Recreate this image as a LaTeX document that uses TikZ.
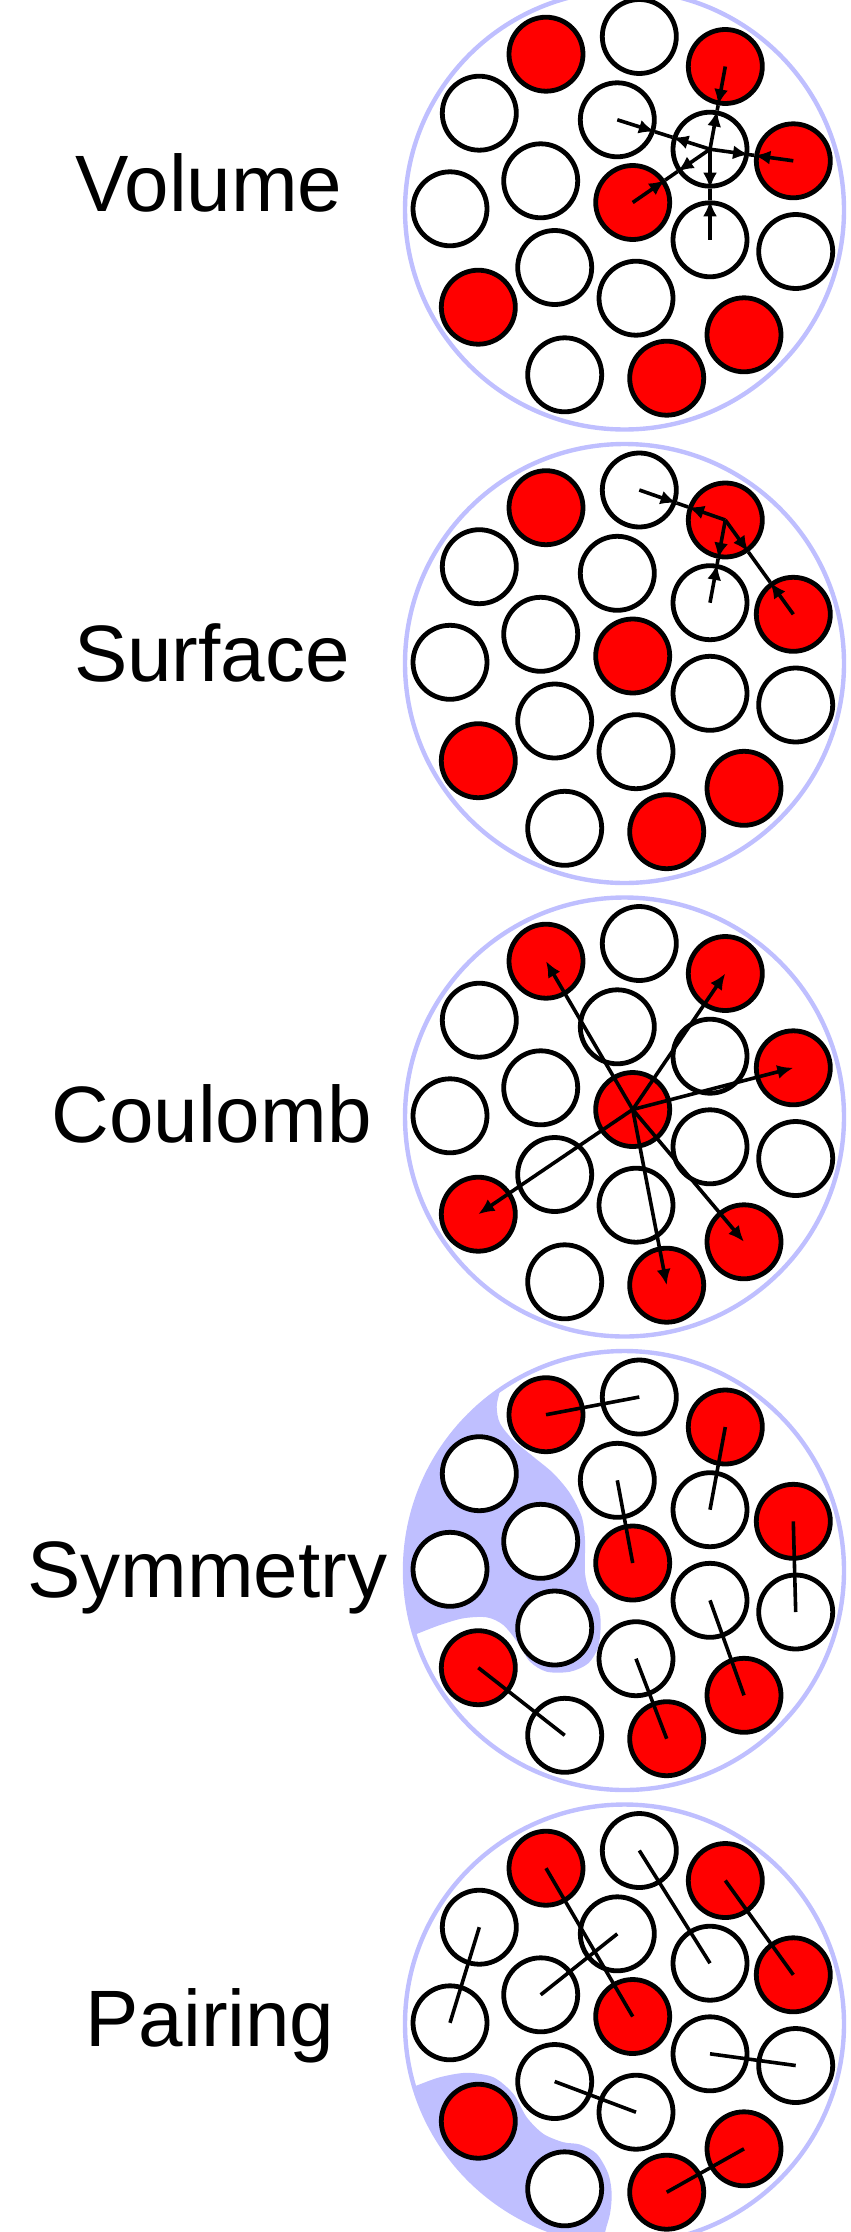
\documentclass[tikz,border=0pt]{standalone}
\usepackage{fontspec}
\setmainfont{Liberation Sans}
\usetikzlibrary{arrows.meta}

\begin{document}
\begin{tikzpicture}[x=0.5pt, y=-0.5pt,
    proton/.style={circle, draw, line width=2.4pt, fill=red, minimum size=37pt, inner sep=0pt},
    neutron/.style={proton, fill=white},
    shell/.style={draw=blue!25, line width=2.2pt},
    bond/.style={line width=1.8pt},
    force/.style={bond, -{Latex[length=8pt, width=7pt]}},
    term/.style={font=\fontsize{40}{48}\selectfont, anchor=base}]
    \useasboundingbox (0, 0) rectangle (851, 2232);

    % left-over nucleons with no partner
    \begin{scope}[shift={(624.5, 1570.5)}]
        \clip (0, 0) circle[radius=219.5];
        \fill[blue!25] plot[smooth] coordinates {(-120, -205) (-124.5, -180.5) (-127.8, -163.8)
            (-124.5, -147.2) (-111.2, -130.5) (-91.2, -113.8) (-71.2, -97.2) (-54.5, -77.2)
            (-42.8, -53.8) (-39.5, -30.5) (-39.5, 2.8) (-34.5, 22.8) (-26.2, 36.2) (-23.8, 52.8)
            (-26.2, 76.2) (-36.2, 92.8) (-54.5, 101.2) (-77.8, 101.2) (-94.5, 91.2) (-106.2, 72.8)
            (-121.2, 54.5) (-137.8, 46.8) (-161.2, 47.8) (-184.5, 54.5) (-206.2, 62.8) (-230, 72)}
            -- (-260, 80) -- (-260, -240) -- (-120, -240) -- cycle;
    \end{scope}
    \begin{scope}[shift={(624.5, 2024)}]
        \clip (0, 0) circle[radius=219.5];
        \fill[blue!25] plot[smooth] coordinates {(-230, 70) (-207.8, 61.5) (-184.5, 53.2)
            (-157.8, 48.8) (-131.2, 53.2) (-111.2, 69.8) (-97.8, 93.2) (-81.2, 109.8) (-61.2, 118.2)
            (-44.5, 120.5) (-27.8, 129.8) (-16.2, 149.8) (-12.8, 169.8) (-14.5, 189.8) (-19.5, 208.5)
            (-24, 235)}
            -- (-260, 240) -- (-260, 75) -- cycle;
    \end{scope}

    % the same nucleus five times
    \foreach \panel/\cy in {v/210, s/663.5, c/1117, y/1570.5, p/2024} {
        \begin{scope}[shift={(624.5, \cy)}]
            \draw[shell] (0, 0) circle[radius=219.5];
            \foreach \n/\x/\y/\kind in {1/-78.5/-155.8/proton, 2/14.8/-173.5/neutron,
                    3/100.8/-143.5/proton, 4/-145.2/-96.8/neutron, 5/-7.2/-90.2/neutron,
                    6/85.5/-60.8/neutron, 7/168.8/-49.2/proton, 8/-83.8/-29.2/neutron,
                    9/8.2/-7.5/proton, 10/-174.5/-1.2/neutron, 11/85.5/29.8/neutron,
                    12/171.2/41.5/neutron, 13/-69.8/57.5/neutron, 14/-146.2/97.2/proton,
                    15/11.5/88.2/neutron, 16/119.5/124.8/proton, 17/-59.8/164.8/neutron,
                    18/42.2/168.2/proton}
                \node[\kind] (\panel\n) at (\x, \y) {};
        \end{scope}
    }

    % volume: one nucleon and all its neighbours
    \foreach \o in {3, 5, 7, 9, 11} {
        \path (v6) -- (v\o) coordinate[pos=0] (from) coordinate[pos=1] (to);
        \draw[force] (v6.center) -- (from);
        \draw[force] (v\o.center) -- (to);
        \draw[bond] (from) -- (to);
    }

    % surface: fewer neighbours at the edge
    \foreach \o in {2, 6, 7} {
        \path (s3) -- (s\o) coordinate[pos=0] (from) coordinate[pos=1] (to);
        \draw[force] (s3.center) -- (from);
        \draw[force] (s\o.center) -- (to);
        \draw[bond] (from) -- (to);
    }

    % coulomb: every other proton
    \foreach \o in {1, 3, 7, 14, 16, 18}
        \draw[force] (c9.center) -- (c\o.center);

    % symmetry: proton-neutron pairs
    \foreach \a/\b in {1/2, 3/6, 5/9, 7/12, 11/16, 15/18, 14/17}
        \draw[bond] (y\a.center) -- (y\b.center);

    % pairing: like pairs
    \foreach \a/\b in {1/9, 2/6, 3/7, 4/10, 5/8, 11/12, 13/15, 16/18}
        \draw[bond] (p\a.center) -- (p\b.center);

    \node[term] (volume) at (209, 211) {Volume};
    \node[term] (surface) at (212, 681) {Surface};
    \node[term] (coulomb) at (211.5, 1142) {Coulomb};
    \node[term] (symmetry) at (207, 1597) {Symmetry};
    \node[term] (pairing) at (210, 2046) {Pairing};
\end{tikzpicture}
\end{document}
